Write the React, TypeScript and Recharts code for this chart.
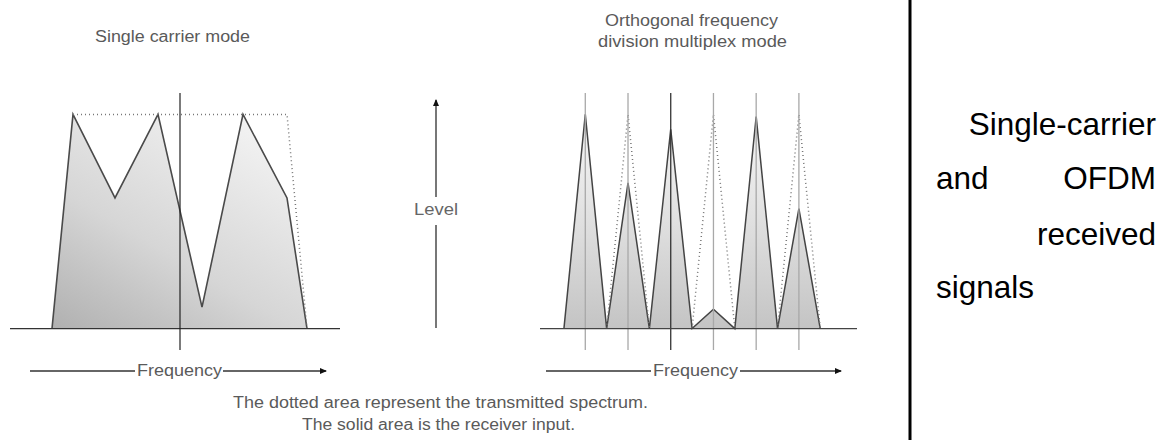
import { ComposedChart, Area, Line, XAxis, YAxis, ReferenceLine } from 'recharts';

// Single carrier spectrum (frequency offset from centre, level in %)
const scFreq = [-12.8, -10.7, -6.5, -2.2, 2.2, 6.3, 10.7, 12.7];
const scReceived = [0, 100, 61, 100, 10, 100, 61, 0];
const scTransmitted: (number | null)[] = [null, 100, null, null, null, null, 100, 0];

// OFDM sub-carriers (index of carrier spacing)
const ofdmCarriers = [-2, -1, 0, 1, 2, 3];
const ofdmFreq = [-2.5, -2, -1.5, -1, -0.5, 0, 0.5, 1, 1.5, 2, 2.5, 3, 3.5];
const ofdmReceived = [0, 100, 0, 68, 0, 93, 0, 9, 0, 99, 0, 56, 0];
const ofdmTransmitted: (number | null)[] = [null, null, 0, 100, 0, null, 0, 100, 0, null, 0, 100, 0];

const scData = scFreq.map((f, i) => ({ f, rx: scReceived[i], tx: scTransmitted[i] }));
const ofdmData = ofdmFreq.map((f, i) => ({ f, rx: ofdmReceived[i], tx: ofdmTransmitted[i] }));

const FONT = "'Liberation Sans', Arial, sans-serif";
const LEVEL_DOMAIN: [number, number] = [-10, 110];

function SingleCarrierChart() {
  return (
    <ComposedChart width={360} height={360} data={scData} margin={{ top: 93, right: 20, bottom: 10, left: 10 }}>
      <defs>
        <linearGradient id="scFill" x1="0" y1="1" x2="0.7" y2="0">
          <stop offset="0%" stopColor="#b0b0b0" />
          <stop offset="45%" stopColor="#d6d6d6" />
          <stop offset="100%" stopColor="#f2f2f2" />
        </linearGradient>
      </defs>
      <XAxis dataKey="f" type="number" domain={[-17, 16]} hide allowDataOverflow />
      <YAxis type="number" domain={LEVEL_DOMAIN} hide allowDataOverflow />
      <Area
        dataKey="rx"
        type="linear"
        baseValue={0}
        stroke="#4a4a4a"
        strokeWidth={1.6}
        fill="url(#scFill)"
        fillOpacity={1}
        dot={false}
        activeDot={false}
        isAnimationActive={false}
      />
      <Line
        dataKey="tx"
        type="linear"
        stroke="#777"
        strokeWidth={1.5}
        strokeDasharray="1 3"
        connectNulls
        dot={false}
        activeDot={false}
        isAnimationActive={false}
      />
      <ReferenceLine y={0} stroke="#333" strokeWidth={1.2} />
      <ReferenceLine x={0} stroke="#222" strokeWidth={1.2} />
    </ComposedChart>
  );
}

function OfdmChart() {
  return (
    <ComposedChart width={360} height={360} data={ofdmData} margin={{ top: 93, right: 23, bottom: 10, left: 20 }}>
      <defs>
        <linearGradient id="ofdmFill" x1="0" y1="1" x2="0" y2="0">
          <stop offset="0%" stopColor="#c4c4c4" />
          <stop offset="50%" stopColor="#e0e0e0" />
          <stop offset="100%" stopColor="#f6f6f6" />
        </linearGradient>
      </defs>
      <XAxis dataKey="f" type="number" domain={[-3.06, 4.36]} hide allowDataOverflow />
      <YAxis type="number" domain={LEVEL_DOMAIN} hide allowDataOverflow />
      <Area
        dataKey="rx"
        type="linear"
        baseValue={0}
        stroke="#444"
        strokeWidth={1.5}
        fill="url(#ofdmFill)"
        fillOpacity={1}
        dot={false}
        activeDot={false}
        isAnimationActive={false}
      />
      <Line
        dataKey="tx"
        type="linear"
        stroke="#777"
        strokeWidth={1.5}
        strokeDasharray="1 3"
        dot={false}
        activeDot={false}
        isAnimationActive={false}
      />
      {ofdmCarriers.map((k) => (
        <ReferenceLine key={k} x={k} stroke={k === 0 ? '#333' : '#a8a8a8'} strokeWidth={1.3} />
      ))}
      <ReferenceLine y={0} stroke="#444" strokeWidth={1.2} />
    </ComposedChart>
  );
}

function Labels() {
  const grey = '#5a5a5a';
  return (
    <svg width={1170} height={440} style={{ position: 'absolute', left: 0, top: 0, pointerEvents: 'none' }}>
      <defs>
        <marker id="head" markerWidth="8" markerHeight="8" refX="6" refY="4" orient="auto" markerUnits="userSpaceOnUse">
          <path d="M0,1 L7,4 L0,7 Z" fill="#111" />
        </marker>
      </defs>
      <g fontFamily={FONT} fontSize={16} fill={grey}>
        <text x={95} y={42} textLength={155} lengthAdjust="spacingAndGlyphs">Single carrier mode</text>
        <text x={605} y={26} textLength={173} lengthAdjust="spacingAndGlyphs">Orthogonal frequency</text>
        <text x={598} y={47} textLength={189} lengthAdjust="spacingAndGlyphs">division multiplex mode</text>
        <text x={414} y={215} textLength={44} lengthAdjust="spacingAndGlyphs" fill="#666">Level</text>
        <text x={137} y={376} textLength={85} lengthAdjust="spacingAndGlyphs">Frequency</text>
        <text x={653} y={376} textLength={85} lengthAdjust="spacingAndGlyphs">Frequency</text>
        <text x={233} y={408} textLength={415} lengthAdjust="spacingAndGlyphs">The dotted area represent the transmitted spectrum.</text>
        <text x={302} y={430} textLength={273} lengthAdjust="spacingAndGlyphs">The solid area is the receiver input.</text>
      </g>

      {/* Level arrow */}
      <line x1={436} y1={328} x2={436} y2={225} stroke="#777" strokeWidth={2} />
      <line x1={436} y1={197} x2={436} y2={100} stroke="#777" strokeWidth={2} markerEnd="url(#head)" />

      {/* Frequency arrows */}
      <line x1={30} y1={371} x2={135} y2={371} stroke="#333" strokeWidth={1.3} />
      <line x1={223} y1={371} x2={326} y2={371} stroke="#333" strokeWidth={1.3} markerEnd="url(#head)" />
      <line x1={546} y1={371} x2={651} y2={371} stroke="#333" strokeWidth={1.3} />
      <line x1={740} y1={371} x2={841} y2={371} stroke="#333" strokeWidth={1.3} markerEnd="url(#head)" />

      {/* Caption panel */}
      <line x1={910} y1={0} x2={910} y2={440} stroke="#000" strokeWidth={3} />
      <g fontFamily={FONT} fontSize={31.5} fill="#000">
        <text x={1156} y={135} textAnchor="end">Single-carrier</text>
        <text x={936} y={189}>and</text>
        <text x={1156} y={189} textAnchor="end">OFDM</text>
        <text x={1156} y={245} textAnchor="end">received</text>
        <text x={936} y={298}>signals</text>
      </g>
    </svg>
  );
}

export default function App() {
  return (
    <div style={{ position: 'absolute', left: 0, top: 0, width: 1170, height: 440, background: '#fff', overflow: 'hidden' }}>
      <div style={{ position: 'absolute', left: 0, top: 0 }}>
        <SingleCarrierChart />
      </div>
      <div style={{ position: 'absolute', left: 520, top: 0 }}>
        <OfdmChart />
      </div>
      <Labels />
    </div>
  );
}
